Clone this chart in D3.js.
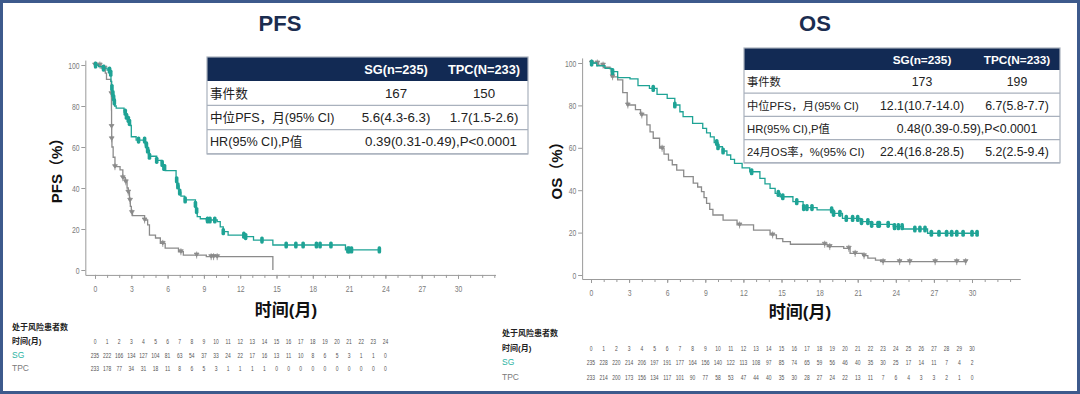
<!DOCTYPE html>
<html>
<head>
<meta charset="utf-8">
<script src="https://cdn.jsdelivr.net/npm/d3@7"></script>
<style>
  body { margin: 0; background: #fff; }
  svg { display: block; font-family: "Liberation Sans", "Noto Sans CJK SC", sans-serif; }
</style>
</head>
<body>
<div id="chart"></div>
<script>
// ---- data ----
// KM steps: [month, survival %]
const pfsSgSteps = [[0,100],[0.3,99.2],[0.7,98.5],[1.0,97.5],[1.25,96],[1.32,92],[1.38,89],[1.44,86],[1.5,84],[1.56,82],[1.62,80],[1.75,79],[2.4,77],[2.55,75],[2.7,73.5],[2.8,72],[2.9,70.5],[3.0,65],[3.4,63.4],[4.15,61],[4.3,58.5],[4.5,55.5],[5.1,53.5],[5.5,52],[5.65,50],[5.8,48.5],[6.7,44],[6.8,41],[6.95,38],[7.1,36],[7.4,34.2],[8.3,32],[8.35,29],[8.45,26],[8.7,25],[9.2,24.4],[10.1,23.6],[10.35,21],[10.6,18.7],[11.0,17],[12.4,16.3],[13.1,14.6],[14.7,12.2],[20.7,9.8]];
const pfsSgEnd = 23.5;
const pfsSgCensor = [0.05,0.7,1.2,1.3,1.4,1.48,1.54,1.6,2.5,2.6,2.75,2.85,3.6,4.1,4.25,4.35,4.5,5.1,5.55,5.7,5.75,6.75,6.85,7.0,7.45,8.3,8.4,9.3,9.5,9.9,10.6,12.3,12.45,13.8,15.8,16.6,17.2,18.3,18.6,19.5,20.9,21.0,21.2,23.5];

const pfsTpcSteps = [[0,100],[0.5,98.5],[0.85,96],[0.95,93],[1.3,92],[1.34,86],[1.36,78],[1.37,70],[1.38,64],[1.4,60],[1.5,55],[1.65,50.4],[2.07,48.8],[2.3,45],[2.5,43],[2.65,40],[2.75,38],[2.85,34],[2.92,31],[3.0,28],[3.1,26.5],[4.1,24.4],[4.35,22],[4.5,17],[5.0,15.6],[5.4,13],[5.8,10.7],[6.9,8.9],[7.3,7.3],[9.2,6.5],[14.7,0]];
const pfsTpcEnd = 14.7;
const pfsTpcCensor = [0.0,0.4,0.8,1.35,1.37,1.38,1.65,2.3,2.55,2.75,2.9,3.05,4.1,5.6,7.1,8.4,9.6,9.8,10.1];

const osSgSteps = [[0,100],[0.45,98.7],[1.1,97.5],[1.6,95.9],[2.1,93.1],[3.07,92.5],[3.7,89.3],[4.6,88],[5.2,85.2],[6.0,83.3],[6.6,80.2],[7.0,77],[7.25,74.7],[8.0,71.5],[8.8,69.2],[9.1,67],[9.4,65.2],[9.7,62.5],[10.0,60.5],[10.35,58.5],[10.7,56.6],[11.0,54.5],[11.3,52.7],[11.9,50.5],[12.5,48.7],[13.3,45.6],[13.7,43],[14.1,40.9],[14.5,38.5],[14.9,36.9],[15.9,34.6],[16.7,31.8],[17.8,30.7],[19.1,29.1],[19.8,26.7],[21.2,25.2],[22.0,23.9],[23.8,22.8],[24.6,21.7],[26.5,19.7]];
const osSgEnd = 30.5;
const osSgCensor = [0.05,1.7,4.9,6.6,9.9,10.0,10.4,12.65,14.75,15.1,16.2,16.75,17.0,17.4,18.95,19.1,19.6,20.1,20.6,21.0,21.3,21.8,22.1,22.6,22.7,23.4,23.9,24.2,24.5,25.5,25.9,26.3,26.8,27.4,28.0,28.4,28.8,29.3,30.0,30.4];

const osTpcSteps = [[0,100],[0.6,99],[1.0,98],[1.5,97.2],[1.6,93.5],[2.1,92],[2.5,86],[2.85,80.2],[3.5,78],[3.9,75.5],[4.4,70.8],[4.65,67.5],[4.9,64.5],[5.4,59.8],[5.75,57],[6.1,54.2],[6.4,52],[6.75,49.5],[7.3,46.4],[8.05,43.3],[8.4,41.5],[8.7,39.3],[8.9,36.5],[9.1,33.8],[9.35,31],[9.6,28.3],[10.4,25.9],[11.5,23.6],[12.8,21.2],[14.1,18.9],[14.6,17.2],[15.1,15.7],[15.7,14.5],[18.6,13.4],[19.9,12.6],[20.4,10.2],[21.4,9.1],[21.8,8],[22.4,7],[22.8,6.3]];
const osTpcEnd = 29.6;
const osTpcCensor = [0.05,0.5,0.95,1.7,2.9,4.0,5.6,11.7,14.3,18.4,18.8,20.3,20.8,21.5,23.0,24.3,25.1,27.1,28.8,29.5];

// axis ticks
const xTickLabels = [0,3,6,9,12,15,18,21,24,27,30];
const yTickLabels = [0,20,40,60,80,100];

// risk tables
const pfsRiskMonths = [0,1,2,3,4,5,6,7,8,9,10,11,12,13,14,15,16,17,18,19,20,21,22,23,24];
const pfsRiskSg = [235,222,166,134,127,104,81,63,54,37,33,24,22,17,16,13,11,10,8,6,5,3,1,1,0];
const pfsRiskTpc = [233,178,77,34,31,18,11,8,6,5,3,1,1,1,1,0,0,0,0,0,0,0,0,0,0];
const osRiskMonths = [0,1,2,3,4,5,6,7,8,9,10,11,12,13,14,15,16,17,18,19,20,21,22,23,24,25,26,27,28,29,30];
const osRiskSg = [235,228,220,214,206,197,191,177,164,156,140,122,113,108,97,85,74,65,59,56,46,40,35,30,25,17,14,11,7,4,2];
const osRiskTpc = [233,214,200,173,156,134,117,101,90,77,58,53,47,44,40,35,30,28,27,24,22,13,11,7,6,4,3,3,2,1,0];

// summary tables
const tableHead = ["", "SG(n=235)", "TPC(N=233)"];
const pfsTableRows = [
    ["事件数", "167", "150"],
    ["中位PFS，月(95% CI)", "5.6(4.3-6.3)", "1.7(1.5-2.6)"],
    ["HR(95% CI),P值", "0.39(0.31-0.49),P<0.0001"]
];
const osTableRows = [
    ["事件数", "173", "199"],
    ["中位PFS，月(95% CI)", "12.1(10.7-14.0)", "6.7(5.8-7.7)"],
    ["HR(95% CI),P值", "0.48(0.39-0.59),P<0.0001"],
    ["24月OS率，%(95% CI)", "22.4(16.8-28.5)", "5.2(2.5-9.4)"]
];

const teal = '#1ea395', grey = '#8b8b8b', navy = '#122a54';
const narrow = 'scale(0.72,1)';

const svg = d3.select('#chart').append('svg').attr('width', 1080).attr('height', 394);

svg.append('rect').attr('x', 1.5).attr('y', 1.5).attr('width', 1077).attr('height', 391)
    .attr('fill', '#fff').attr('stroke', '#3d5a8c').attr('stroke-width', 3);

// value of a KM step function at time t
function survAt(steps, t) {
    let v = steps[0][1];
    steps.forEach(s => { if (s[0] <= t) v = s[1]; });
    return v;
}

function drawPanel(p) {
    let g = svg.append('g');

    let x = d3.scaleLinear().domain([0, 30]).range([p.x0, p.x30]);
    let y = d3.scaleLinear().domain([0, 100]).range([p.y0, p.y100]);
    let xAxisScale = x.copy().domain(p.xExtent).range(p.xExtent.map(x));
    let yAxisScale = y.copy().domain(p.yExtent).range(p.yExtent.map(y));

    // title
    g.append('text').attr('x', p.titleX).attr('y', 31).attr('text-anchor', 'middle')
        .attr('font-size', 22).attr('font-weight', 'bold').attr('fill', '#1b2d50').text(p.title);

    // axes
    g.append('g').attr('transform', `translate(0,${yAxisScale(p.yExtent[0])})`)
        .call(d3.axisBottom(xAxisScale).tickValues(xTickLabels).tickSize(4).tickSizeOuter(0).tickPadding(6));
    g.append('g').attr('transform', `translate(0,${yAxisScale(p.yExtent[0])})`)
        .call(d3.axisBottom(xAxisScale).tickValues(d3.range(0, 34)).tickSize(3).tickFormat(''))
        .call(a => a.select('.domain').remove());
    g.append('g').attr('transform', `translate(${xAxisScale(p.xExtent[0])},0)`)
        .call(d3.axisLeft(yAxisScale).tickValues(yTickLabels).tickSize(4).tickSizeOuter(0).tickPadding(4));

    g.selectAll('.domain, .tick line').attr('stroke', '#9a9a9a');
    g.selectAll('.tick text').attr('fill', '#7a7a7a').attr('font-size', 9.5).attr('transform', narrow);

    // axis titles
    g.append('text').attr('transform', `translate(${p.yTitleX},167) rotate(-90)`)
        .attr('text-anchor', 'middle').attr('font-size', 15).attr('font-weight', 'bold')
        .attr('fill', '#111').text(p.yTitle);
    g.append('text').attr('x', p.xTitleX).attr('y', p.xTitleY).attr('text-anchor', 'middle')
        .attr('font-size', 17).attr('font-weight', 'bold').attr('fill', '#111').text('时间(月)');

    // curves
    let line = d3.line().x(d => x(d[0])).y(d => y(d[1])).curve(d3.curveStepAfter);
    p.series.forEach(s => {
        let pts = s.steps.concat([[s.end, s.steps[s.steps.length - 1][1]]]);
        g.append('path').datum(pts).attr('d', line)
            .attr('fill', 'none').attr('stroke', s.color).attr('stroke-width', 1.3);

        let marks = g.selectAll(null).data(s.censor).join('g')
            .attr('transform', t => `translate(${x(t)},${y(survAt(s.steps, t))})`);
        if (s.color === teal) {
            marks.append('rect').attr('x', -1.8).attr('y', -3.6).attr('width', 3.6).attr('height', 7.2)
                .attr('rx', 1.6).attr('fill', teal);
        } else {
            marks.append('path').attr('d', 'M0,-3.5V3.5M-2.4,-2L2.4,-2L0,1.6Z')
                .attr('fill', grey).attr('stroke', grey).attr('stroke-width', 0.8);
        }
    });

    // summary table
    let t = p.table;
    let tg = g.append('g');
    tg.append('rect').attr('x', t.x).attr('y', t.y).attr('width', t.w).attr('height', t.headH)
        .attr('fill', navy);
    tableHead.forEach((h, i) => {
        if (!h) return;
        tg.append('text').attr('x', t.cols[i - 1]).attr('y', t.y + t.headH / 2 + 4.5)
            .attr('text-anchor', 'middle').attr('font-size', t.fs - 0.5).attr('font-weight', 'bold')
            .attr('fill', '#fff').text(h);
    });
    t.rows.forEach((r, i) => {
        let ry = t.y + t.headH + i * t.rowH;
        tg.append('line').attr('x1', t.x).attr('x2', t.x + t.w).attr('y1', ry + t.rowH).attr('y2', ry + t.rowH)
            .attr('stroke', '#a9b1bd').attr('stroke-width', 1.2);
        let ty = ry + t.rowH / 2 + 4.7;
        tg.append('text').attr('x', t.x + 3).attr('y', ty).attr('font-size', t.labelFs).attr('fill', '#222').text(r[0]);
        if (r.length === 2) {
            tg.append('text').attr('x', t.merged).attr('y', ty).attr('text-anchor', 'middle')
                .attr('font-size', t.fs).attr('fill', '#222').text(r[1]);
        } else {
            r.slice(1).forEach((c, j) => {
                tg.append('text').attr('x', t.cols[j]).attr('y', ty).attr('text-anchor', 'middle')
                    .attr('font-size', t.fs).attr('fill', '#222').text(c);
            });
        }
    });
    tg.append('rect').attr('x', t.x).attr('y', t.y).attr('width', t.w)
        .attr('height', t.headH + t.rows.length * t.rowH)
        .attr('fill', 'none').attr('stroke', '#a9b1bd').attr('stroke-width', 1.2);

    // numbers at risk
    let r = p.risk;
    let rg = g.append('g');
    rg.append('text').attr('x', r.labelX).attr('y', r.ys[0]).attr('font-size', 8).attr('font-weight', 'bold')
        .attr('fill', '#222').text('处于风险患者数');
    rg.append('text').attr('x', r.labelX).attr('y', r.ys[1]).attr('font-size', 8).attr('font-weight', 'bold')
        .attr('fill', '#222').text('时间(月)');
    rg.append('text').attr('x', r.labelX).attr('y', r.ys[2]).attr('font-size', 8.5)
        .attr('fill', '#2ab3a3').text('SG');
    rg.append('text').attr('x', r.labelX).attr('y', r.ys[3]).attr('font-size', 8.5)
        .attr('fill', '#7a7a7a').text('TPC');
    [r.months, r.sg, r.tpc].forEach((row, k) => {
        rg.selectAll(null).data(row).join('text')
            .attr('transform', (d, i) => `translate(${x(r.months[i])},${r.ys[k + 1]}) scale(0.62,1)`)
            .attr('text-anchor', 'middle')
            .attr('font-size', 8)
            .attr('fill', '#555')
            .text(d => d);
    });
}

drawPanel({
    title: 'PFS', titleX: 280, yTitle: 'PFS（%）', yTitleX: 62, xTitleX: 286, xTitleY: 316,
    x0: 95, x30: 458, xExtent: [-0.8, 33.1],
    y0: 270, y100: 65, yExtent: [-2.4, 102.4],
    series: [
        { steps: pfsTpcSteps, end: pfsTpcEnd, censor: pfsTpcCensor, color: grey },
        { steps: pfsSgSteps, end: pfsSgEnd, censor: pfsSgCensor, color: teal }
    ],
    table: { x: 207, y: 57, w: 321, headH: 24, rowH: 24.3, cols: [396, 484], merged: 441,
             fs: 13.3, labelFs: 12.6, rows: pfsTableRows },
    risk: { labelX: 12, ys: [330, 344, 358, 371], months: pfsRiskMonths, sg: pfsRiskSg, tpc: pfsRiskTpc }
});

drawPanel({
    title: 'OS', titleX: 815, yTitle: 'OS（%）', yTitleX: 562, xTitleX: 800, xTitleY: 318,
    x0: 591, x30: 972, xExtent: [-0.7, 33.8],
    y0: 275, y100: 63, yExtent: [-1.9, 102.4],
    series: [
        { steps: osTpcSteps, end: osTpcEnd, censor: osTpcCensor, color: grey },
        { steps: osSgSteps, end: osSgEnd, censor: osSgCensor, color: teal }
    ],
    table: { x: 744, y: 48, w: 316, headH: 22, rowH: 23.2, cols: [922, 1017], merged: 967,
             fs: 12.3, labelFs: 11.3, rows: osTableRows },
    risk: { labelX: 502, ys: [336, 351, 365, 380], months: osRiskMonths, sg: osRiskSg, tpc: osRiskTpc }
});
</script>
</body>
</html>
